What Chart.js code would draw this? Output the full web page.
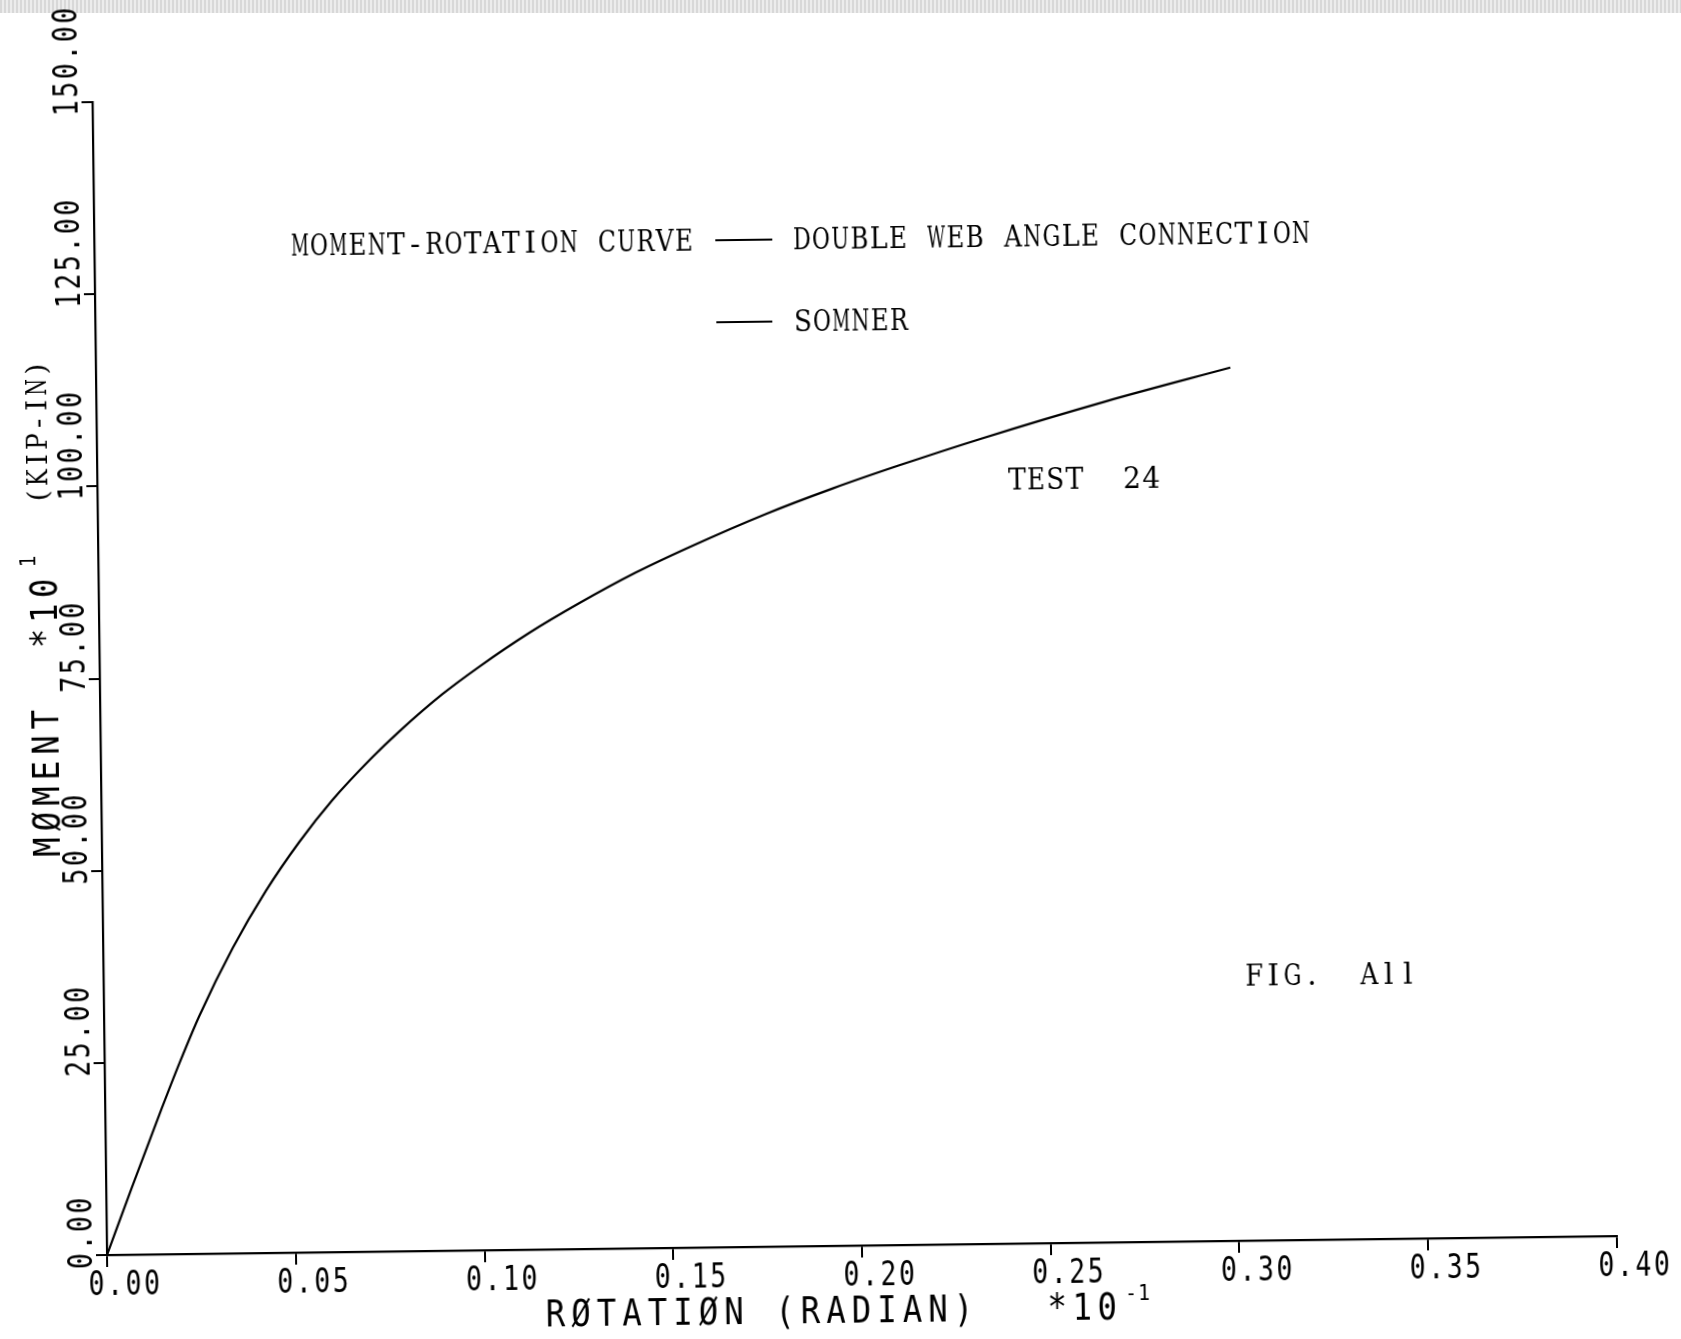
<!DOCTYPE html>
<html>
<head>
<meta charset="utf-8">
<title>Moment-rotation curve</title>
<script src="https://cdn.jsdelivr.net/npm/chart.js@4.4.1/dist/chart.umd.min.js"></script>
<style>
  html, body { margin: 0; padding: 0; background: #fff; overflow: hidden; }
  #wrap { position: relative; width: 1681px; height: 1339px; }
  #scan { position: absolute; left: 0; top: 0; width: 1681px; height: 13px;
          background: repeating-linear-gradient(90deg, #d8d8d8 0 2px, #ececec 2px 4px); }
  #myChart { position: absolute; left: 0; top: 0;
             transform-origin: 107px 1255px; transform: rotate(-0.72deg); }
</style>
</head>
<body>
<div id="wrap">
  <div id="scan"></div>
  <canvas id="myChart" width="1681" height="1339"></canvas>
</div>
<script>
// values (rotation x10^-1 radian, moment x10 kip-in)
const rotation = [0, 0.0067, 0.0150, 0.0198, 0.0253, 0.0343, 0.0433, 0.0523, 0.0612, 0.0715,
  0.0791, 0.0907, 0.1005, 0.1138, 0.1272, 0.1423, 0.1565, 0.1769, 0.1946, 0.2123,
  0.2345, 0.2673, 0.3005];
const moment = [0, 8.6, 19.0, 24.8, 31.0, 39.7, 47.1, 53.4, 58.8, 64.1,
  67.6, 72.4, 75.9, 80.2, 84.0, 87.9, 91.1, 95.3, 98.5, 101.4,
  104.8, 109.4, 113.6];

const xTickValues = [0, 0.05, 0.10, 0.15, 0.20, 0.25, 0.30, 0.35, 0.40];
const xTickLabels = ["0.00", "0.05", "0.10", "0.15", "0.20", "0.25", "0.30", "0.35", "0.40"];
const yTickValues = [0, 25, 50, 75, 100, 125, 150];
const yTickLabels = ["0.00", "25.00", "50.00", "75.00", "100.00", "125.00", "150.00"];

const plotterFont = '"DejaVu Sans Mono", monospace';
const typeFont = '"DejaVu Serif", "Liberation Serif", serif';

// draw a string one character at a time at a fixed pitch,
// squeezing any glyph that is wider than the pitch allows
function monoText(ctx, str, x, y, adv, font, sx, fit) {
  ctx.save();
  ctx.font = font;
  ctx.textAlign = "center";
  ctx.textBaseline = "alphabetic";
  ctx.fillStyle = "#000";
  for (let i = 0; i < str.length; i++) {
    let k = sx;
    if (fit) {
      const w = ctx.measureText(str[i]).width;
      if (w > 0) k = Math.min(sx, (fit * adv) / w);
    }
    ctx.save();
    ctx.translate(x + (i + 0.5) * adv, y);
    ctx.scale(k, 1);
    ctx.fillText(str[i], 0, 0);
    ctx.restore();
  }
  ctx.restore();
}

function upText(ctx, str, bx, by, adv, font, sx, fit) {
  ctx.save();
  ctx.translate(bx, by);
  ctx.rotate(-Math.PI / 2);
  monoText(ctx, str, 0, 0, adv, font, sx, fit);
  ctx.restore();
}

function dash(ctx, x1, x2, y) {
  ctx.save();
  ctx.strokeStyle = "#000";
  ctx.lineWidth = 2;
  ctx.beginPath();
  ctx.moveTo(x1, y);
  ctx.lineTo(x2, y);
  ctx.stroke();
  ctx.restore();
}

const labelsPlugin = {
  id: "plotterLabels",
  afterDraw(chart) {
    const ctx = chart.ctx;
    const xs = chart.scales.x;
    const ys = chart.scales.y;
    const x0 = xs.getPixelForValue(0);
    const y0 = ys.getPixelForValue(0);
    const tickFont = "33px " + plotterFont;

    xTickValues.forEach((v, i) => {
      monoText(ctx, xTickLabels[i], xs.getPixelForValue(v) - 20, y0 + 40, 18.5, tickFont, 0.8);
    });
    yTickValues.forEach((v, i) => {
      upText(ctx, yTickLabels[i], x0 - 15, ys.getPixelForValue(v) + 15, 18.5, tickFont, 0.8);
    });

    // axis titles
    const titleFont = "38px " + plotterFont;
    monoText(ctx, "R\u00D8TATI\u00D8N (RADIAN)", 542, y0 + 77, 25.5, titleFont, 0.85);
    monoText(ctx, "*10", 1044, y0 + 77, 25, titleFont, 0.85);
    monoText(ctx, "-1", 1124, y0 + 58, 13, "22px " + plotterFont, 0.9);

    upText(ctx, "M\u00D8MENT", 65, 859, 25.5, titleFont, 0.85);
    upText(ctx, "*10", 65, 650, 25, titleFont, 0.85);
    upText(ctx, "1", 44, 567, 13, "22px " + plotterFont, 0.9);
    upText(ctx, "(KIP-IN)", 57, 504, 18.1, "28px " + typeFont, 1, 0.92);

    // typed annotations
    const tf = "30px " + typeFont;
    monoText(ctx, "MOMENT-ROTATION CURVE", 303, 258, 19.2, tf, 1, 0.93);
    dash(ctx, 728, 785, 248);
    monoText(ctx, "DOUBLE WEB ANGLE CONNECTION", 805, 258, 19.2, tf, 1, 0.93);
    dash(ctx, 728, 784, 330);
    monoText(ctx, "SOMNER", 805, 340, 19.2, tf, 1, 0.93);
    monoText(ctx, "TEST  24", 1017, 501, 19.2, tf, 1, 0.93);
    monoText(ctx, "FIG.  All", 1248, 1000, 19.2, tf, 1, 0.93);
  }
};

const points = rotation.map((r, i) => ({ x: r, y: moment[i] }));

new Chart(document.getElementById("myChart"), {
  type: "line",
  data: {
    datasets: [
      {
        label: "Somner",
        data: points,
        borderColor: "#000",
        borderWidth: 2.2,
        pointRadius: 0,
        fill: false,
        cubicInterpolationMode: "monotone",
      },
    ],
  },
  options: {
    responsive: false,
    animation: false,
    layout: { padding: { left: 0, right: 64, top: 102, bottom: 0 } },
    plugins: { legend: { display: false }, tooltip: { enabled: false } },
    scales: {
      x: {
        type: "linear",
        min: 0,
        max: 0.4,
        afterFit: (s) => { s.height = 84; },
        ticks: { display: false, stepSize: 0.05 },
        grid: { display: true, drawOnChartArea: false, drawTicks: true, tickLength: 12, color: "#000", lineWidth: 2 },
        border: { display: true, color: "#000", width: 2.2 },
      },
      y: {
        type: "linear",
        min: 0,
        max: 150,
        afterFit: (s) => { s.width = 107; },
        ticks: { display: false, stepSize: 25 },
        grid: { display: true, drawOnChartArea: false, drawTicks: true, tickLength: 11, color: "#000", lineWidth: 2 },
        border: { display: true, color: "#000", width: 2.2 },
      },
    },
  },
  plugins: [labelsPlugin],
});
</script>
</body>
</html>
